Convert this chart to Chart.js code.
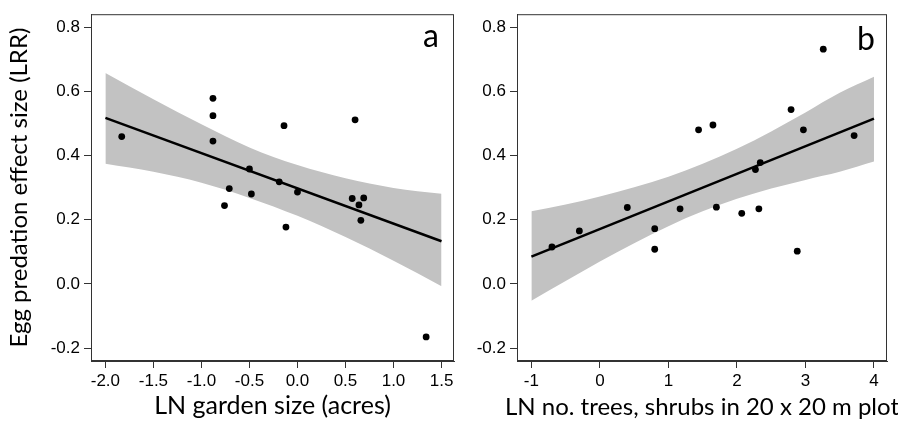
<!DOCTYPE html>
<html>
<head>
<meta charset="utf-8">
<script src="https://cdn.jsdelivr.net/npm/chart.js@4"></script>
<style>
html, body { margin: 0; padding: 0; background: #fff; overflow: hidden; }
#wrap { position: relative; width: 898px; height: 421px; }
canvas { position: absolute; top: 0; }
#chartA { left: 0; }
#chartB { left: 460px; }
</style>
</head>
<body>
<div id="wrap">
  <canvas id="chartA" width="460" height="421"></canvas>
  <canvas id="chartB" width="438" height="421"></canvas>
</div>
<script>
// shared y axis
const effectTicks = [-0.2, 0.0, 0.2, 0.4, 0.6, 0.8];

// panel a - garden size
const gardenX = [-1.83, -0.88, -0.88, -0.88, -0.76, -0.71, -0.50, -0.48, -0.19, -0.14, -0.12, 0.00, 0.57, 0.60, 0.64, 0.66, 0.69, 1.34];
const gardenY = [0.459, 0.578, 0.524, 0.445, 0.244, 0.297, 0.358, 0.280, 0.318, 0.493, 0.177, 0.286, 0.266, 0.511, 0.246, 0.198, 0.268, -0.165];
const gardenFitX = [-2.0, 1.5];
const gardenFitY = [0.517, 0.133];
const gardenBandX = [-2.0, -1.5, -1.0, -0.5, 0.0, 0.5, 1.0, 1.5];
const gardenBandUpper = [0.657, 0.575, 0.497, 0.425, 0.370, 0.329, 0.299, 0.281];
const gardenBandLower = [0.374, 0.349, 0.315, 0.268, 0.212, 0.146, 0.072, -0.007];
const gardenTicks = [-2.0, -1.5, -1.0, -0.5, 0.0, 0.5, 1.0, 1.5];

// panel b - trees and shrubs
const treesX = [-0.70, -0.30, 0.40, 0.80, 0.80, 1.17, 1.44, 1.65, 1.70, 2.07, 2.27, 2.32, 2.34, 2.79, 2.88, 2.97, 3.26, 3.71];
const treesY = [0.115, 0.165, 0.238, 0.172, 0.108, 0.234, 0.480, 0.495, 0.239, 0.220, 0.356, 0.234, 0.378, 0.543, 0.102, 0.480, 0.731, 0.462];
const treesFitX = [-1.0, 4.0];
const treesFitY = [0.085, 0.515];
const treesBandX = [-1.0, -0.5, 0.0, 0.5, 1.0, 1.5, 2.0, 2.5, 3.0, 3.5, 4.0];
const treesBandUpper = [0.226, 0.247, 0.272, 0.301, 0.334, 0.374, 0.421, 0.475, 0.534, 0.595, 0.645];
const treesBandLower = [-0.052, 0.009, 0.070, 0.127, 0.180, 0.226, 0.265, 0.297, 0.324, 0.349, 0.381];
const treesTicks = [-1, 0, 1, 2, 3, 4];

function pairs(xs, ys) {
    return xs.map(function(x, i) { return { x: x, y: ys[i] }; });
}

// box around the plot, panel letter, and (for b) the x title that runs off the page
const framePlugin = {
    id: 'frame',
    afterDraw: function(chart, args, opts) {
        const ctx = chart.ctx;
        const a = chart.chartArea;
        ctx.save();
        ctx.strokeStyle = '#333';
        ctx.lineWidth = 1;
        ctx.strokeRect(a.left + 0.5, a.top + 0.5, a.right - a.left - 1, a.bottom - a.top - 1);
        ctx.fillStyle = '#000';
        ctx.font = '32px Lato';
        ctx.textAlign = 'center';
        ctx.textBaseline = 'alphabetic';
        ctx.fillText(opts.letter, a.right - opts.letterDx, a.top + opts.letterDy);
        if (opts.xTitle) {
            ctx.font = '24px Lato';
            ctx.textBaseline = 'middle';
            ctx.fillText(opts.xTitle, (a.left + a.right) / 2, 407);
        }
        ctx.restore();
    }
};

function makePanel(id, cfg) {
    const ctx = document.getElementById(id).getContext('2d');
    const axisColor = '#333';
    return new Chart(ctx, {
        type: 'scatter',
        data: {
            datasets: [
                {
                    data: pairs(cfg.x, cfg.y),
                    backgroundColor: '#000',
                    borderWidth: 0,
                    pointRadius: 3.4,
                    order: 0
                },
                {
                    type: 'line',
                    data: pairs(cfg.fitX, cfg.fitY),
                    borderColor: '#000',
                    borderWidth: 2.5,
                    pointRadius: 0,
                    fill: false,
                    order: 1
                },
                {
                    type: 'line',
                    data: pairs(cfg.bandX, cfg.bandUpper),
                    borderWidth: 0,
                    borderColor: 'rgba(0,0,0,0)',
                    backgroundColor: '#c2c2c2',
                    pointRadius: 0,
                    cubicInterpolationMode: 'monotone',
                    fill: '+1',
                    order: 2
                },
                {
                    type: 'line',
                    data: pairs(cfg.bandX, cfg.bandLower),
                    borderWidth: 0,
                    borderColor: 'rgba(0,0,0,0)',
                    pointRadius: 0,
                    cubicInterpolationMode: 'monotone',
                    fill: false,
                    order: 3
                }
            ]
        },
        options: {
            responsive: false,
            animation: false,
            devicePixelRatio: 1,
            layout: {
                autoPadding: false,
                padding: { left: 0, right: cfg.padRight, top: cfg.padTop, bottom: 0 }
            },
            plugins: {
                legend: { display: false },
                tooltip: { enabled: false },
                frame: { letter: cfg.letter, letterDx: cfg.letterDx, letterDy: cfg.letterDy, xTitle: cfg.xTitleDrawn }
            },
            scales: {
                x: {
                    type: 'linear',
                    min: cfg.xMin,
                    max: cfg.xMax,
                    afterBuildTicks: function(scale) {
                        scale.ticks = cfg.xTicks.map(function(v) { return { value: v }; });
                    },
                    afterFit: function(scale) { scale.height = 60; },
                    grid: { drawOnChartArea: false, drawTicks: true, tickLength: 7, color: axisColor },
                    border: { display: true, color: axisColor },
                    ticks: {
                        color: '#000',
                        padding: 3,
                        maxRotation: 0,
                        font: { family: 'Liberation Sans', size: 17 },
                        callback: cfg.xFormat
                    },
                    title: {
                        display: !!cfg.xTitle,
                        text: cfg.xTitle || '',
                        color: '#000',
                        padding: { top: 0, bottom: 0 },
                        font: { family: 'Lato', size: 25 }
                    }
                },
                y: {
                    type: 'linear',
                    min: -0.24,
                    max: 0.84,
                    afterBuildTicks: function(scale) {
                        scale.ticks = effectTicks.map(function(v) { return { value: v }; });
                    },
                    afterFit: function(scale) { scale.width = cfg.yWidth; },
                    grid: { drawOnChartArea: false, drawTicks: true, tickLength: 7, color: axisColor },
                    border: { display: true, color: axisColor },
                    ticks: {
                        color: '#000',
                        padding: 4,
                        font: { family: 'Liberation Sans', size: 17 },
                        callback: function(v) { return v.toFixed(1); }
                    },
                    title: {
                        display: !!cfg.yTitle,
                        text: cfg.yTitle || '',
                        color: '#000',
                        padding: { top: 5, bottom: 0 },
                        font: { family: 'Lato', size: 24 }
                    }
                }
            }
        },
        plugins: [framePlugin]
    });
}

document.addEventListener('DOMContentLoaded', function() {
    makePanel('chartA', {
        x: gardenX, y: gardenY,
        fitX: gardenFitX, fitY: gardenFitY,
        bandX: gardenBandX, bandUpper: gardenBandUpper, bandLower: gardenBandLower,
        xTicks: gardenTicks, xMin: -2.15, xMax: 1.63,
        xFormat: function(v) { return v.toFixed(1); },
        xTitle: 'LN garden size (acres)',
        yTitle: 'Egg predation effect size (LRR)',
        yWidth: 91, padRight: 6, padTop: 10,
        letter: 'a', letterDx: 23, letterDy: 33
    });
    makePanel('chartB', {
        x: treesX, y: treesY,
        fitX: treesFitX, fitY: treesFitY,
        bandX: treesBandX, bandUpper: treesBandUpper, bandLower: treesBandLower,
        xTicks: treesTicks, xMin: -1.21, xMax: 4.19,
        xFormat: function(v) { return String(v); },
        xTitleDrawn: 'LN no. trees, shrubs in 20 x 20 m plot',
        yWidth: 57, padRight: 11, padTop: 11,
        letter: 'b', letterDx: 21, letterDy: 36
    });
});
</script>
</body>
</html>
